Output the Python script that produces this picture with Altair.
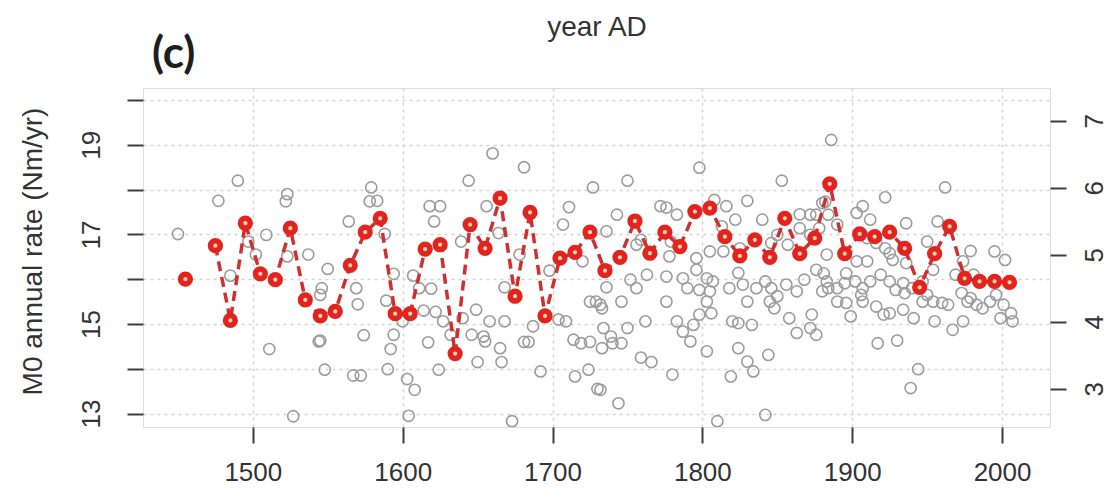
import altair as alt
import pandas as pd
import numpy as np

# ---- data ----
red_years = [1455, 1475, 1485, 1495, 1505, 1515, 1525, 1535, 1545, 1555, 1565, 1575,
             1585, 1595, 1605, 1615, 1625, 1635, 1645, 1655, 1665, 1675, 1685, 1695,
             1705, 1715, 1725, 1735, 1745, 1755, 1765, 1775, 1785, 1795, 1805, 1815,
             1825, 1835, 1845, 1855, 1865, 1875, 1885, 1895, 1905, 1915, 1925, 1935,
             1945, 1955, 1965, 1975, 1985, 1995, 2005]
red_values = [16.00, 16.75, 15.08, 17.25, 16.12, 15.99, 17.14, 15.54, 15.18, 15.28, 16.31, 17.05,
              17.36, 15.23, 15.23, 16.67, 16.77, 14.34, 17.22, 16.69, 17.81, 15.62, 17.49, 15.18,
              16.47, 16.60, 17.05, 16.19, 16.49, 17.30, 16.58, 17.05, 16.73, 17.51, 17.59, 16.95,
              16.52, 16.88, 16.49, 17.36, 16.57, 16.92, 18.13, 16.57, 17.01, 16.95, 17.05, 16.69,
              15.82, 16.57, 17.18, 16.02, 15.95, 15.95, 15.93]

gray_years = [
    1450, 1477, 1490, 1485, 1497, 1502, 1509, 1511, 1523, 1522, 1523, 1527, 1537, 1550, 1546,
    1544, 1545, 1548, 1545, 1564, 1569, 1570, 1574, 1567, 1572, 1578,
    1579, 1583, 1588, 1594, 1589, 1600, 1594, 1592, 1590, 1603, 1608, 1604, 1607, 1611, 1619,
    1618, 1625, 1621, 1614, 1622, 1627, 1617, 1624, 1632, 1639, 1640, 1644, 1649, 1646, 1650,
    1654, 1656, 1658, 1660, 1664, 1665, 1666, 1668, 1668, 1655, 1678, 1681, 1681, 1684, 1687,
    1692, 1698, 1704, 1709, 1707, 1711, 1720, 1727, 1725, 1729, 1714, 1719, 1725, 1715, 1724,
    1730, 1673,
    1750, 1798, 1853, 1743, 1736, 1772, 1776, 1783, 1808, 1816, 1822, 1830, 1840, 1865, 1872,
    1876, 1880, 1756, 1759, 1779, 1778, 1805, 1813, 1814, 1825, 1846, 1850, 1857, 1865, 1872,
    1878, 1736, 1732, 1733, 1752, 1756, 1746, 1763, 1776, 1787, 1796, 1796, 1803, 1807, 1790,
    1798, 1805, 1818, 1824, 1827, 1836, 1842, 1846, 1850, 1856, 1863, 1868, 1876, 1880, 1830,
    1845, 1848, 1776, 1803, 1806, 1798, 1794, 1787, 1783, 1792, 1803, 1820, 1824, 1833, 1858,
    1863, 1872, 1873, 1876, 1734, 1739, 1740, 1733, 1750, 1762, 1746, 1759, 1766, 1780, 1732,
    1744, 1824, 1830, 1834, 1819, 1844, 1842, 1810,
    1886, 1922, 1962, 1907, 1903, 1912, 1882, 1884, 1890, 1936, 1957, 1979, 1995, 2002, 1910,
    1916, 1922, 1903, 1910, 1927, 1950, 1954, 1881, 1883, 1896, 1895, 1902, 1884, 1890, 1907,
    1912, 1919, 1925, 1929, 1934, 1935, 1940, 1947, 1947, 1954, 1960, 1964, 1950, 1890, 1896,
    1907, 1916, 1899, 1906, 1921, 1925, 1934, 1941, 1955, 1967, 1974, 1979, 1983, 1987, 1973,
    1977, 1992, 1996, 2001, 1999, 2006, 2007, 1974, 1981, 1969, 1917, 1930, 1944, 1939, 1883,
    1925, 1936]
gray_values = [
    17.01, 17.75, 18.20, 16.08, 16.84, 16.55, 16.99, 14.44, 17.90, 17.74, 16.51, 12.94, 16.55, 16.23, 15.80,
    14.61, 14.63, 13.98, 15.65, 17.29, 15.80, 15.44, 14.75, 13.85, 13.85, 17.74,
    18.05, 17.75, 17.01, 16.12, 15.52, 15.06, 14.76, 14.44, 13.99, 13.77, 13.53, 12.95, 16.08, 15.80, 15.79,
    17.63, 17.63, 17.29, 15.30, 15.27, 15.06, 14.59, 13.98, 14.76, 16.84, 15.13, 18.20, 15.32, 14.76, 14.15,
    14.72, 17.63, 15.06, 18.81, 17.03, 14.46, 14.15, 15.82, 15.06, 14.61, 16.55, 18.50, 14.60, 14.60, 14.95,
    13.94, 16.19, 15.10, 15.06, 17.22, 17.61, 16.40, 18.05, 15.50, 15.50, 14.65, 14.57, 14.60, 13.83, 13.98,
    13.55, 12.83,
    18.20, 18.49, 18.20, 17.44, 17.07, 17.63, 17.60, 17.44, 17.77, 17.63, 17.33, 17.75, 17.33, 17.45, 17.44,
    17.44, 17.70, 16.77, 16.88, 16.84, 16.51, 16.62, 17.18, 16.62, 16.69, 16.81, 16.99, 16.77, 17.14, 16.99,
    17.14, 15.82, 15.43, 15.35, 15.99, 15.80, 15.50, 16.10, 16.06, 16.02, 16.47, 16.21, 16.02, 15.95, 15.80,
    15.76, 15.73, 15.80, 16.14, 15.88, 15.80, 15.95, 15.80, 15.62, 15.88, 15.73, 15.99, 16.21, 15.73, 15.50,
    15.50, 15.35, 15.50, 15.50, 15.24, 15.21, 14.98, 14.83, 15.06, 14.61, 14.39, 15.06, 15.02, 14.98, 15.13,
    14.80, 14.91, 15.21, 14.76, 14.91, 14.72, 14.57, 14.46, 14.91, 15.06, 14.57, 14.25, 14.15, 13.87, 13.53,
    13.23, 14.46, 14.16, 13.94, 13.83, 14.31, 12.97, 12.83,
    19.11, 17.83, 18.05, 17.63, 17.48, 17.33, 17.73, 17.44, 17.22, 17.25, 17.29, 16.63, 16.62, 16.43, 16.92,
    16.81, 16.69, 16.40, 16.40, 16.43, 16.84, 16.21, 16.13, 15.95, 16.13, 15.91, 15.95, 15.80, 15.80, 15.80,
    15.95, 16.10, 15.95, 15.76, 15.91, 15.69, 15.80, 15.95, 15.50, 15.50, 15.47, 15.43, 15.65, 15.50, 15.47,
    15.50, 15.39, 15.17, 15.65, 15.21, 15.24, 15.32, 15.13, 15.06, 14.87, 15.06, 15.58, 15.43, 15.35, 15.69,
    15.50, 15.50, 15.65, 15.43, 15.13, 15.24, 15.06, 16.40, 16.10, 16.10, 14.57, 14.63, 13.99, 13.57, 16.55,
    16.58, 16.36]

panel_label = ["(c)"]
x_ticks = [1500, 1600, 1700, 1800, 1900, 2000]
left_ticks = [13, 14, 15, 16, 17, 18, 19, 20]
right_ticks = [3, 4, 5, 6, 7]
x_domain = [1426.7, 2032]
left_domain = [12.70, 20.27]
right_domain = [2.43, 7.49]

gray_df = pd.DataFrame({"year": gray_years, "value": gray_values})
red_df = pd.DataFrame({"year": red_years, "value": red_values})
red_df["seg"] = (red_df["year"].diff().fillna(0) > 15).cumsum()
right_df = pd.DataFrame({"tick": right_ticks})
label_df = pd.DataFrame({"label": panel_label})

FONT = "Liberation Sans"
TXT = "#333333"
AX = "#3c3c3c"

xscale = alt.Scale(domain=x_domain, nice=False, zero=False)
yscale = alt.Scale(domain=left_domain, nice=False, zero=False)

x_axis = alt.Axis(values=x_ticks, format="d", grid=True, gridDash=[3, 4], gridColor="#d2d2d2",
                  gridWidth=1.5, domain=False, ticks=True, tickSize=16, tickWidth=2, tickColor=AX,
                  labelFont=FONT, labelFontSize=26, labelColor=TXT, labelPadding=16,
                  title="year AD", titleFont=FONT, titleFontSize=28, titleFontWeight="normal",
                  titleColor=TXT, titleX=453.5, titleY=-392, titleAlign="center",
                  titleBaseline="alphabetic", titleAngle=0)

y_axis = alt.Axis(values=left_ticks, labelExpr="datum.value % 2 == 1 ? datum.label : ''",
                  grid=True, gridDash=[3, 4], gridColor="#d2d2d2", gridWidth=1.5, domain=False,
                  tickSize=16, tickWidth=2, tickColor=AX, labelFont=FONT, labelFontSize=26,
                  labelColor=TXT, labelAngle=270, labelAlign="center", labelBaseline="bottom",
                  labelPadding=23, title="M0 annual rate (Nm/yr)", titleFont=FONT,
                  titleFontSize=28, titleFontWeight="normal", titleColor=TXT, titleAngle=270,
                  titleAlign="center", titleBaseline="alphabetic", titleX=-102, titleY=163)

gray = alt.Chart(gray_df).mark_point(
    shape="circle", filled=False, color="#9c9c9c", strokeWidth=1.6, size=125, opacity=1, clip=True
).encode(
    x=alt.X("year:Q", scale=xscale, axis=x_axis),
    y=alt.Y("value:Q", scale=yscale, axis=y_axis),
)

line = alt.Chart(red_df).mark_line(
    color="#cc3030", strokeDash=[10, 6], strokeWidth=3.5
).encode(
    x=alt.X("year:Q", scale=xscale),
    y=alt.Y("value:Q", scale=yscale),
    detail="seg:N",
)

red = alt.Chart(red_df).mark_point(
    shape="circle", filled=True, fill="#f6d2b4", stroke="#e3241e", strokeWidth=5.5,
    size=95, opacity=1, fillOpacity=1
).encode(
    x=alt.X("year:Q", scale=xscale),
    y=alt.Y("value:Q", scale=yscale),
)

panel = alt.Chart(label_df).mark_text(
    font="Lato", fontSize=44, fontWeight="bold", color="#1e1e1e",
    align="left", baseline="alphabetic"
).encode(text="label:N", x=alt.value(9), y=alt.value(-20))

main = alt.layer(gray, line, red, panel)

right = alt.Chart(right_df).mark_point(opacity=0).encode(
    y=alt.Y("tick:Q", scale=alt.Scale(domain=right_domain, nice=False, zero=False),
            axis=alt.Axis(orient="right", values=right_ticks, grid=False, domain=False,
                          tickSize=16, tickWidth=2, tickColor=AX, labelFont=FONT,
                          labelFontSize=26, labelColor=TXT, labelAngle=270,
                          labelAlign="center", labelBaseline="top", labelPadding=15,
                          title=None)),
)

chart = alt.layer(main, right).resolve_scale(y="independent").properties(
    width=907, height=339,
    autosize=alt.AutoSizeParams(type="none"),
    padding={"left": 135, "top": 80, "right": 57, "bottom": 58},
).configure_view(stroke=AX, strokeWidth=2).configure(background="white")

chart.save("out.html", embed_options={"renderer": "svg", "actions": False})
